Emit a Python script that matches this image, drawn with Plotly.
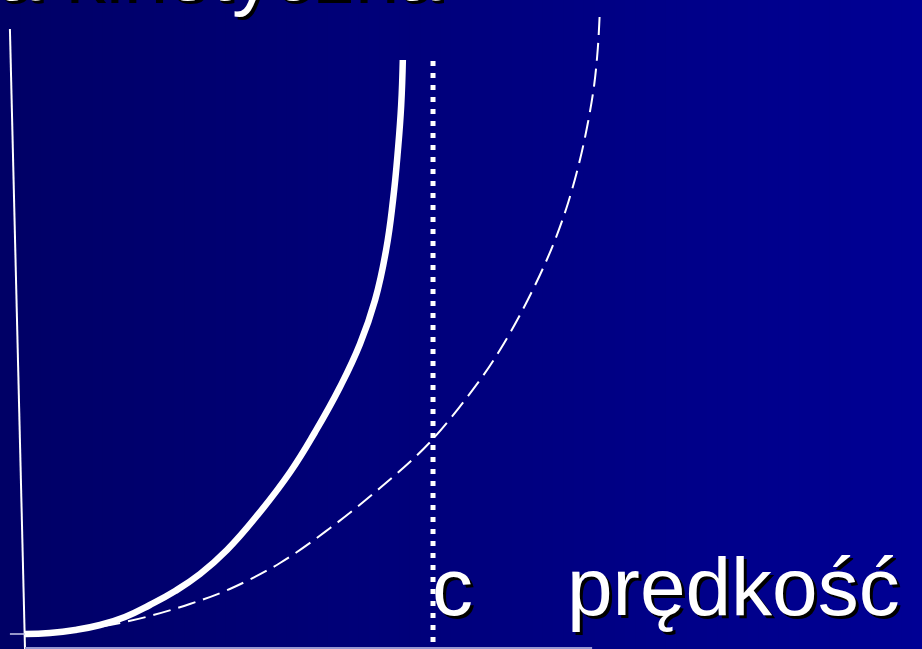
import numpy as np
import plotly.graph_objects as go

# Velocity in units of c, kinetic energy in arbitrary units
v_rel = [0.000, 0.061, 0.123, 0.184, 0.245, 0.306, 0.368, 0.429, 0.495, 0.576,
         0.650, 0.711, 0.772, 0.821, 0.858, 0.885, 0.902, 0.914, 0.922, 0.926]
e_rel = [0.00, 0.01, 0.04, 0.09, 0.17, 0.29, 0.43, 0.60, 0.84, 1.22,
         1.62, 2.02, 2.47, 2.90, 3.34, 3.84, 4.34, 4.84, 5.29, 5.74]

v_cls = [0.000, 0.110, 0.208, 0.306, 0.404, 0.502, 0.625, 0.748, 0.870, 0.993,
         1.115, 1.164, 1.213, 1.262, 1.299, 1.331, 1.360, 1.380, 1.395, 1.404, 1.409]
e_cls = [0.00, 0.03, 0.09, 0.18, 0.30, 0.45, 0.71, 1.06, 1.46, 1.92,
         2.54, 2.84, 3.19, 3.59, 3.94, 4.31, 4.74, 5.12, 5.49, 5.86, 6.24]

c_speed = 1.0
c_line_e = [-0.08, 5.76]

title_text = "Energia kinetyczna"
x_label = "prędkość"
c_label = "c"

X_RANGE = [-0.0613, 2.1985]
Y_RANGE = [-0.15, 6.34]

W, H = 922, 649

fig = go.Figure()

# horizontal navy gradient as thin strips behind everything
shapes = []
n = 90
left = np.array([0, 0, 102])
right = np.array([0, 0, 148])
for i in range(n):
    t = i / (n - 1)
    col = left + (right - left) * t
    shapes.append(dict(type="rect", xref="paper", yref="paper",
                       x0=i / n, x1=(i + 1.6) / n, y0=0, y1=1,
                       fillcolor="rgb(%d,%d,%d)" % tuple(col.round()),
                       line=dict(width=0), layer="below"))

# axes drawn by hand: slanted vertical line, small zero tick, pale baseline
shapes.append(dict(type="line", xref="x", yref="y", x0=-0.037, y0=6.05, x1=0.0, y1=-0.15,
                   line=dict(color="white", width=2)))
shapes.append(dict(type="line", xref="x", yref="y", x0=-0.037, y0=0.0, x1=0.0, y1=0.0,
                   line=dict(color="rgb(200,200,235)", width=1.5)))
shapes.append(dict(type="line", xref="x", yref="y", x0=0.0, y0=-0.14, x1=1.39, y1=-0.14,
                   line=dict(color="rgb(150,150,210)", width=2)))

# speed-of-light marker
fig.add_trace(go.Scatter(x=[c_speed, c_speed], y=c_line_e, mode="lines",
                         line=dict(color="white", width=5, dash="5px,7px"),
                         hoverinfo="skip", showlegend=False))

# classical kinetic energy
fig.add_trace(go.Scatter(x=v_cls, y=e_cls, mode="lines",
                         line=dict(color="white", width=2, dash="18px,8px",
                                   shape="spline", smoothing=1.0),
                         hoverinfo="skip", showlegend=False))

# relativistic kinetic energy
fig.add_trace(go.Scatter(x=v_rel, y=e_rel, mode="lines",
                         line=dict(color="white", width=6.5, shape="spline", smoothing=1.3),
                         hoverinfo="skip", showlegend=False))

font_family = "Liberation Sans, Arial, sans-serif"
shadow = "3px 3px 0px black"
annotations = [
    dict(text=title_text, xref="paper", yref="paper",
         x=443 / W, y=1 + 28 / H, xanchor="right", yanchor="middle", showarrow=False,
         font=dict(family=font_family, size=80, color="white", shadow=shadow)),
    dict(text=c_label, xref="paper", yref="paper",
         x=452 / W, y=1 - 586 / H, xanchor="center", yanchor="middle", showarrow=False,
         font=dict(family=font_family, size=82, color="white", shadow=shadow)),
    dict(text=x_label, xref="paper", yref="paper",
         x=565 / W, y=1 - 586 / H, xanchor="left", yanchor="middle", showarrow=False,
         font=dict(family=font_family, size=82, color="white", shadow=shadow)),
]

fig.update_layout(
    width=W, height=H,
    margin=dict(l=0, r=0, t=0, b=0),
    paper_bgcolor="rgb(0,0,110)",
    plot_bgcolor="rgba(0,0,0,0)",
    xaxis=dict(range=X_RANGE, visible=False, fixedrange=True),
    yaxis=dict(range=Y_RANGE, visible=False, fixedrange=True),
    shapes=shapes,
    annotations=annotations,
    showlegend=False,
)

fig.write_html("out.html", config={"displayModeBar": False})
